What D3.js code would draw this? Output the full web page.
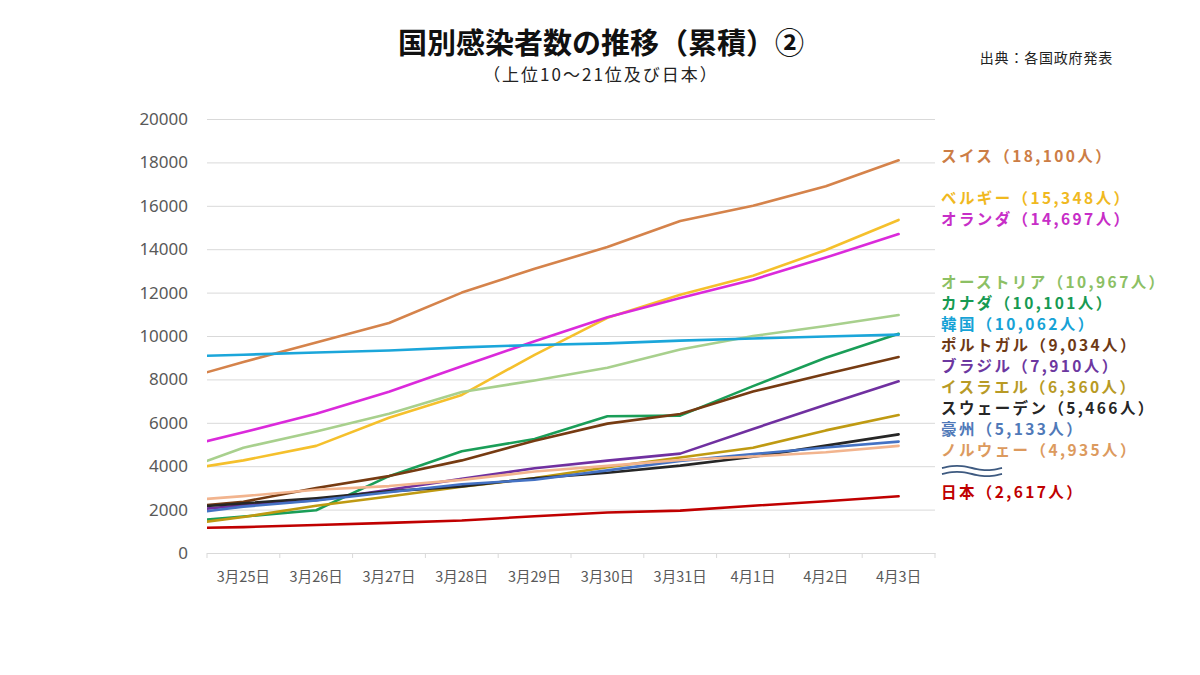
<!DOCTYPE html>
<html>
<head>
<meta charset="utf-8">
<script src="https://cdn.jsdelivr.net/npm/d3@7/dist/d3.min.js"></script>
<style>
  html, body { margin: 0; padding: 0; background: #ffffff; }
  svg { display: block; }
  text { font-family: "Noto Sans CJK JP", "Noto Sans", sans-serif; }
</style>
</head>
<body>
<svg id="chart" width="1200" height="675"></svg>
<script>
// ---- data ----
// first category is the day before the first visible date; it is clipped by the plot edge
const categories = ["3月24日","3月25日","3月26日","3月27日","3月28日","3月29日","3月30日","3月31日","4月1日","4月2日","4月3日"];
const visibleCategories = categories.slice(1);
const yTicks = [0, 2000, 4000, 6000, 8000, 10000, 12000, 14000, 16000, 18000, 20000];

const swiss       = [7860, 8800, 9700, 10600, 12000, 13100, 14100, 15300, 16000, 16900, 18100];
const belgium     = [3743, 4269, 4937, 6235, 7284, 9134, 10836, 11899, 12775, 13964, 15348];
const netherlands = [4749, 5560, 6412, 7431, 8603, 9762, 10866, 11750, 12595, 13614, 14697];
const austria     = [3640, 4850, 5600, 6420, 7420, 7950, 8540, 9380, 10000, 10460, 10967];
const canada      = [1395, 1681, 1970, 3540, 4690, 5250, 6300, 6330, 7690, 9000, 10101];
const korea       = [9037, 9137, 9241, 9332, 9478, 9583, 9661, 9786, 9887, 9976, 10062];
const portugal    = [2060, 2362, 2995, 3544, 4268, 5170, 5962, 6408, 7443, 8251, 9034];
const brazil      = [1891, 2201, 2433, 2915, 3417, 3904, 4256, 4579, 5717, 6836, 7910];
const israel      = [1240, 1656, 2180, 2600, 3050, 3450, 3950, 4400, 4850, 5650, 6360];
const sweden      = [2046, 2286, 2526, 2840, 3069, 3447, 3700, 4028, 4435, 4947, 5466];
const australia   = [1709, 2136, 2423, 2799, 3166, 3378, 3809, 4245, 4559, 4862, 5133];
const norway      = [2371, 2621, 2916, 3084, 3369, 3755, 4015, 4284, 4445, 4641, 4935];
const japan       = [1128, 1193, 1291, 1387, 1499, 1693, 1866, 1953, 2178, 2382, 2617];

const seriesNames = ["スイス","ベルギー","オランダ","オーストリア","カナダ","韓国","ポルトガル","ブラジル","イスラエル","スウェーデン","豪州","ノルウェー","日本"];
const seriesValues = [swiss, belgium, netherlands, austria, canada, korea, portugal, brazil, israel, sweden, australia, norway, japan];
const labelRows = [0, 2, 3, 6, 7, 8, 9, 10, 11, 12, 13, 14, 16];
const lineColors  = ["#D5834B","#F5C02C","#DB2ADB","#A8D08D","#1A9E58","#1BA6DA","#763B12","#7030A0","#BF9A12","#262626","#4472C4","#F2B48E","#C00000"];
const labelColors = ["#CC7D45","#F0B91F","#C72EC7","#8CC064","#169A52","#16A2D6","#6E3915","#6C37A0","#B89A25","#262626","#5079B8","#DC9A5E","#C00000"];

const titleText = "国別感染者数の推移（累積）②";
const subtitleText = "（上位10～21位及び日本）";
const sourceText = "出典：各国政府発表";

// ---- layout ----
const svg = d3.select("#chart");
const plot = { left: 207, right: 935, top: 119, bottom: 553 };

const xAxisScale = d3.scaleBand().domain(visibleCategories).range([plot.left, plot.right]).paddingInner(0).paddingOuter(0);
const bw = xAxisScale.bandwidth();
const xLineScale = d3.scaleBand().domain(categories).range([plot.left - bw, plot.right]).paddingInner(0).paddingOuter(0);
const y = d3.scaleLinear().domain([0, 20000]).range([plot.bottom, plot.top]);

// title
svg.append("text").attr("x", 601).attr("y", 54).attr("text-anchor", "middle")
  .attr("font-size", 29).attr("font-weight", 700).attr("fill", "#111").text(titleText);
svg.append("text").attr("x", 601).attr("y", 81).attr("text-anchor", "middle")
  .attr("font-size", 17).attr("letter-spacing", 2).attr("fill", "#222").text(subtitleText);
svg.append("text").attr("x", 1113).attr("y", 63).attr("text-anchor", "end")
  .attr("font-size", 14).attr("letter-spacing", 0.8).attr("fill", "#222").text(sourceText);

// gridlines + y labels
const yAxis = d3.axisLeft(y).tickValues(yTicks).tickSize(-(plot.right - plot.left)).tickFormat(d3.format("d")).tickPadding(19);
const gy = svg.append("g").attr("transform", `translate(${plot.left},0)`).call(yAxis);
gy.select(".domain").remove();
gy.selectAll(".tick line").attr("stroke", "#D9D9D9").attr("stroke-width", 1);
gy.selectAll(".tick text").attr("font-size", 17).attr("fill", "#595959")
  .style("font-family", "'Noto Sans', sans-serif");

// x axis
const xAxis = d3.axisBottom(xAxisScale).tickSize(0).tickPadding(19);
const gx = svg.append("g").attr("transform", `translate(0,${plot.bottom})`).call(xAxis);
gx.select(".domain").attr("stroke", "#D9D9D9");
gx.selectAll(".tick text").attr("font-size", 14.5).attr("fill", "#595959");
// tick marks at band boundaries
const boundaries = visibleCategories.map(c => xAxisScale(c)).concat([plot.right]);
gx.selectAll("line.bound").data(boundaries).enter().append("line")
  .attr("class", "bound").attr("x1", d => d).attr("x2", d => d)
  .attr("y1", 0).attr("y2", 5).attr("stroke", "#D9D9D9");

// clip
svg.append("clipPath").attr("id", "plotclip").append("rect")
  .attr("x", plot.left).attr("y", 0).attr("width", plot.right - plot.left + 20).attr("height", 675);

const line = d3.line()
  .x((d, i) => xLineScale(categories[i]) + xLineScale.bandwidth() / 2)
  .y(d => y(d));

const gl = svg.append("g").attr("clip-path", "url(#plotclip)");
gl.selectAll("path.series").data(seriesValues).enter().append("path")
  .attr("class", "series")
  .attr("d", d => line(d))
  .attr("fill", "none")
  .attr("stroke", (d, i) => lineColors[i])
  .attr("stroke-width", 2.6)
  .attr("stroke-linejoin", "round")
  .attr("stroke-linecap", "round");

// labels
const fmt = d3.format(",");
const rowH = 21;
const labelTop = 156;
svg.selectAll("text.lab").data(seriesNames).enter().append("text")
  .attr("class", "lab")
  .attr("x", 941)
  .attr("y", (d, i) => labelTop + labelRows[i] * rowH + 6)
  .attr("font-size", 15.5).attr("font-weight", 700)
  .attr("letter-spacing", 2.4)
  .attr("fill", (d, i) => labelColors[i])
  .text((d, i) => `${d}（${fmt(seriesValues[i][seriesValues[i].length - 1])}人）`);

// wave (omission) mark
const waveY = labelTop + 15 * rowH;
const wave = d3.line().curve(d3.curveBasis);
[-3, 3].forEach(off => {
  const pts = d3.range(0, 61, 5).map(t => [942 + t, waveY + off + 2.2 * Math.sin((t / 60) * Math.PI * 2 + Math.PI)]);
  svg.append("path").attr("d", wave(pts)).attr("fill", "none")
    .attr("stroke", "#3E5A80").attr("stroke-width", 1.8);
});
</script>
</body>
</html>
